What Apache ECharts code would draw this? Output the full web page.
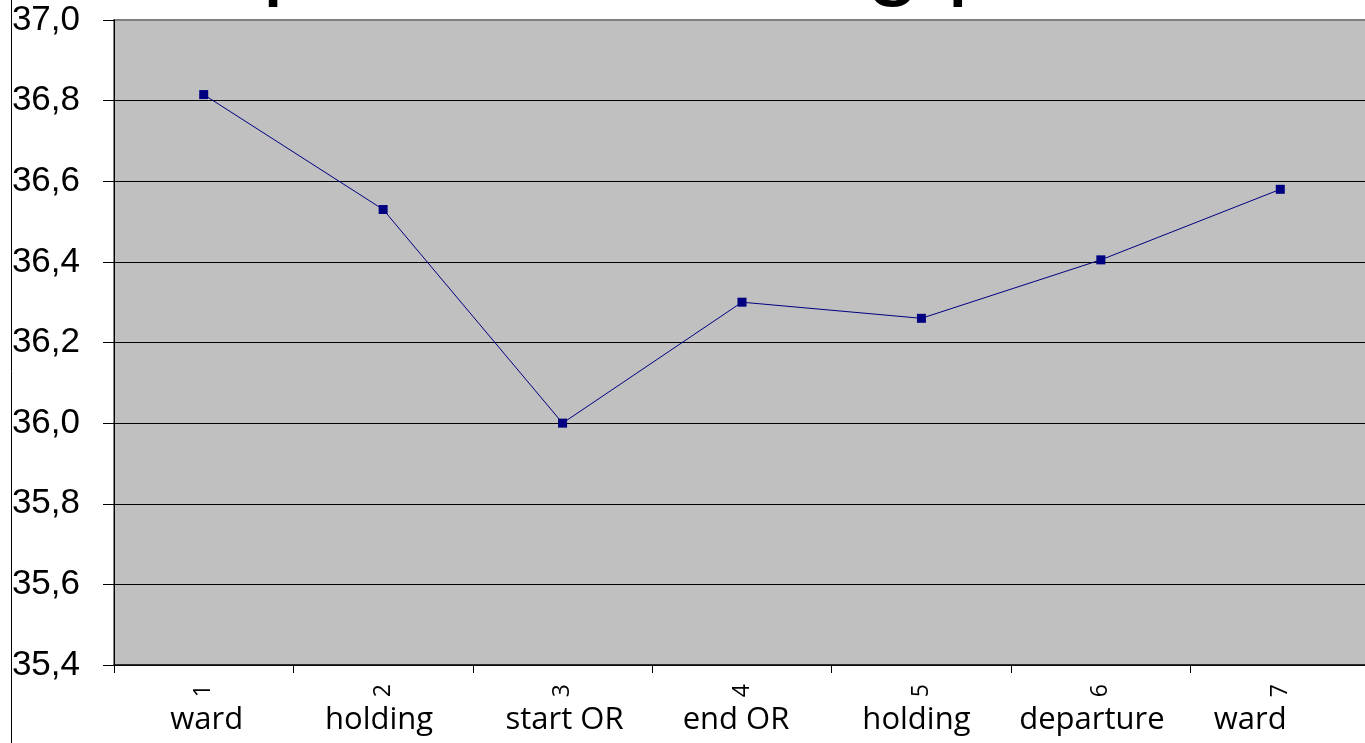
<!DOCTYPE html>
<html>
<head>
<meta charset="utf-8">
<style>
  html, body { margin: 0; padding: 0; background: #ffffff; }
  #chart { width: 1365px; height: 743px; }
</style>
<script src="https://cdn.jsdelivr.net/npm/echarts@6/dist/echarts.min.js"></script>
</head>
<body>
<div id="chart"></div>
<script>
// Measurement steps along the perioperative course
const stepNumbers = ['1', '2', '3', '4', '5', '6', '7'];
const stepNames = ['ward', 'holding', 'start OR', 'end OR', 'holding', 'departure', 'ward'];
// Mean body temperature (°C) at each step
const temperature = [36.815, 36.53, 36.00, 36.30, 36.26, 36.405, 36.58];
// Value axis range
const yMin = 35.4;
const yMax = 37.0;
const yStep = 0.2;
const titleText = 'Temperature during procedure';

// Horizontal nudge (px) of each step name relative to its category centre
const nameNudge = [3, -4, 2, -6, -5, -9, -30];

const nameItems = stepNames.map(function (name, i) {
  const s = nameNudge[i];
  return {
    value: name,
    textStyle: { padding: s >= 0 ? [0, 0, 0, 2 * s] : [0, -2 * s, 0, 0] }
  };
});

const chart = echarts.init(document.getElementById('chart'), null, { renderer: 'canvas' });

chart.setOption({
  animation: false,
  backgroundColor: '#ffffff',
  grid: {
    left: 114,
    top: 20,
    right: -5,
    bottom: 78,
    outerBoundsMode: 'none',
    containLabel: false,
    show: true,
    backgroundColor: '#c0c0c0',
    borderColor: '#808080',
    borderWidth: 2
  },
  graphic: [
    {
      type: 'line',
      shape: { x1: 11.5, y1: 0, x2: 11.5, y2: 743 },
      style: { stroke: '#000000', lineWidth: 1 },
      z: 10
    },
    {
      type: 'text',
      x: 79,
      y: -40,
      style: {
        text: titleText,
        font: '97px "Liberation Sans", Arial, sans-serif',
        fill: '#000000',
        textAlign: 'left',
        textVerticalAlign: 'middle'
      },
      z: 10
    }
  ],
  xAxis: [
    {
      type: 'category',
      data: stepNumbers,
      boundaryGap: true,
      position: 'bottom',
      axisLine: { show: true, lineStyle: { color: '#111111', width: 1.5 } },
      axisTick: { show: true, length: 8, lineStyle: { color: '#000000', width: 1 } },
      axisLabel: {
        rotate: 90,
        margin: 19,
        fontFamily: '"Open Sans", sans-serif',
        fontSize: 23,
        color: '#000000'
      },
      splitLine: { show: false }
    },
    {
      type: 'category',
      data: nameItems,
      boundaryGap: true,
      position: 'bottom',
      axisLine: { show: false },
      axisTick: { show: false },
      axisLabel: {
        margin: 40,
        fontFamily: '"Open Sans", sans-serif',
        fontSize: 31,
        color: '#000000',
        interval: 0
      },
      splitLine: { show: false }
    }
  ],
  yAxis: {
    type: 'value',
    min: yMin,
    max: yMax,
    interval: yStep,
    axisLine: { show: true, lineStyle: { color: '#000000', width: 1 } },
    axisTick: { show: true, length: 11, lineStyle: { color: '#000000', width: 1 } },
    axisLabel: {
      margin: 34,
      fontFamily: '"Liberation Sans", Arial, sans-serif',
      fontSize: 35,
      color: '#000000',
      formatter: function (v) { return v.toFixed(1).replace('.', ','); }
    },
    splitLine: { show: true, showMaxLine: false, lineStyle: { color: '#000000', width: 1 } }
  },
  series: [
    {
      type: 'line',
      xAxisIndex: 0,
      data: temperature,
      symbol: 'rect',
      symbolSize: 9,
      showSymbol: true,
      lineStyle: { color: '#000080', width: 1 },
      itemStyle: { color: '#000080' },
      z: 5
    }
  ]
});
</script>
</body>
</html>
